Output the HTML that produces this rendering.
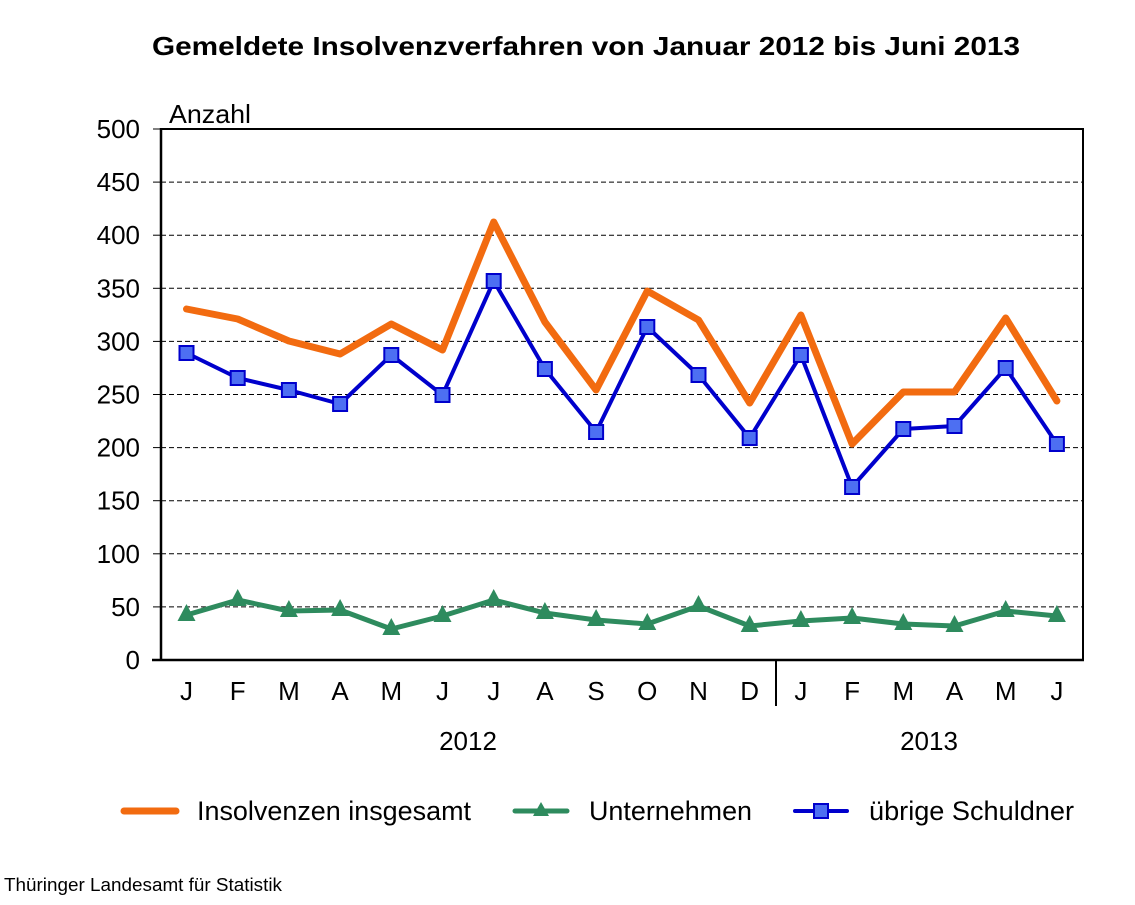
<!DOCTYPE html>
<html><head><meta charset="utf-8"><style>
body{margin:0;background:#fff;}
svg text{font-family:"Liberation Sans",Arial,sans-serif;fill:#000;}
</style></head><body>
<svg id="s" width="1135" height="900" xmlns="http://www.w3.org/2000/svg">
<rect width="1135" height="900" fill="#fff"/>
<text x="152" y="55" font-size="26" font-weight="bold" textLength="868" lengthAdjust="spacingAndGlyphs">Gemeldete Insolvenzverfahren von Januar 2012 bis Juni 2013</text>
<text x="169" y="123" font-size="26" textLength="82" lengthAdjust="spacingAndGlyphs">Anzahl</text>
<g stroke="#000" stroke-width="1" stroke-dasharray="5,3">
<line x1="161" x2="1083" y1="606.9" y2="606.9"/><line x1="161" x2="1083" y1="553.8" y2="553.8"/>
<line x1="161" x2="1083" y1="500.7" y2="500.7"/><line x1="161" x2="1083" y1="447.6" y2="447.6"/>
<line x1="161" x2="1083" y1="394.5" y2="394.5"/><line x1="161" x2="1083" y1="341.4" y2="341.4"/>
<line x1="161" x2="1083" y1="288.3" y2="288.3"/><line x1="161" x2="1083" y1="235.2" y2="235.2"/>
<line x1="161" x2="1083" y1="182.1" y2="182.1"/>
</g>
<polyline points="161,129 1083,129 1083,660" fill="none" stroke="#000" stroke-width="2"/>
<line x1="161" y1="128" x2="161" y2="661" stroke="#000" stroke-width="2.5"/>
<line x1="152" y1="660" x2="1084" y2="660" stroke="#000" stroke-width="2.5"/>
<line x1="776" y1="660" x2="776" y2="706" stroke="#000" stroke-width="2"/>
<g id="yt" stroke="#000" stroke-width="1"></g>
<g id="yl" font-size="26" text-anchor="end"></g>
<g id="xl" font-size="26" text-anchor="middle"></g>
<text x="468" y="750" font-size="26" text-anchor="middle">2012</text>
<text x="929" y="750" font-size="26" text-anchor="middle">2013</text>
<g id="series"></g>
<line x1="124" y1="811" x2="176" y2="811" stroke="#f26b10" stroke-width="7" stroke-linecap="round"/>
<text x="197" y="820" font-size="27" textLength="274" lengthAdjust="spacingAndGlyphs">Insolvenzen insgesamt</text>
<line x1="515" y1="811" x2="567" y2="811" stroke="#2e8b5e" stroke-width="5" stroke-linecap="round"/>
<polygon points="541,802 549,816 533,816" fill="#2e8b5e"/>
<text x="589" y="820" font-size="27" textLength="163" lengthAdjust="spacingAndGlyphs">Unternehmen</text>
<line x1="795" y1="811" x2="847" y2="811" stroke="#0000cc" stroke-width="4" stroke-linecap="round"/>
<rect x="814" y="804" width="14" height="14" fill="#4d6ff2" stroke="#0000cc" stroke-width="2"/>
<text x="869" y="820" font-size="27" textLength="205" lengthAdjust="spacingAndGlyphs">übrige Schuldner</text>
<text x="4" y="891" font-size="18" textLength="278" lengthAdjust="spacingAndGlyphs">Thüringer Landesamt für Statistik</text>
</svg>
<script>
var NS="http://www.w3.org/2000/svg";
function el(t,a,p,txt){var e=document.createElementNS(NS,t);for(var k in a)e.setAttribute(k,a[k]);if(txt)e.textContent=txt;document.getElementById(p).appendChild(e);return e;}
for(var k=0;k<=10;k++){var y=660-53.1*k;el("line",{x1:153,x2:161,y1:y,y2:y},"yt");el("text",{x:140,y:y+9},"yl",String(k*50));}
var m="JFMAMJJASONDJFMAMJ";var X=[];for(var i=0;i<18;i++){X.push(186.5+51.2*i);el("text",{x:X[i],y:700},"xl",m[i]);}
var O=[309,319,341,354,324,350,222,322,390,291,320,403,315,444,392,392,318,401];
var B=[353,378,390,404,355,395,281,369,432,327,375,438,355,487,429,426,368,444];
var G=[615,600,611,610,629,616,600,613,620,624,606,626,621,618,624,626,611,616];
function pts(a){return a.map(function(v,i){return X[i]+","+v}).join(" ");}
el("polyline",{points:pts(O),fill:"none",stroke:"#f26b10","stroke-width":7,"stroke-linejoin":"round","stroke-linecap":"round"},"series");
el("polyline",{points:pts(G),fill:"none",stroke:"#2e8b5e","stroke-width":5,"stroke-linejoin":"round"},"series");
G.forEach(function(v,i){var x=X[i];el("polygon",{points:x+","+(v-11)+" "+(x+9)+","+(v+6)+" "+(x-9)+","+(v+6),fill:"#2e8b5e"},"series");});
el("polyline",{points:pts(B),fill:"none",stroke:"#0000cc","stroke-width":4,"stroke-linejoin":"round"},"series");
B.forEach(function(v,i){el("rect",{x:X[i]-7,y:v-7,width:14,height:14,fill:"#4d6ff2",stroke:"#0000cc","stroke-width":2},"series");});
</script>
</body></html>
